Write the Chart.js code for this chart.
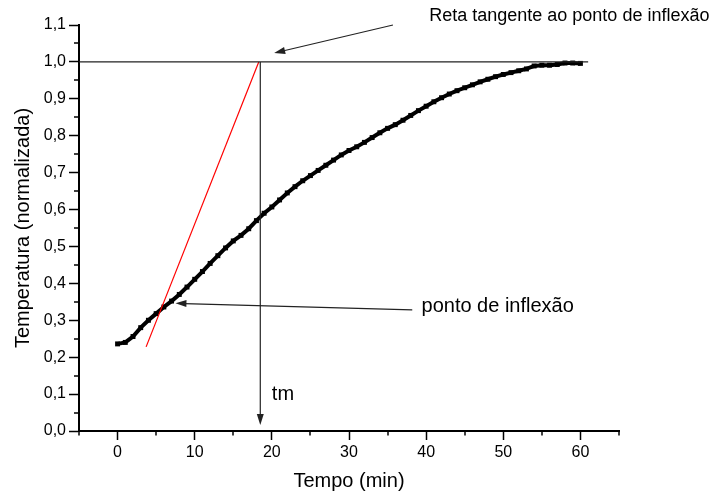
<!DOCTYPE html>
<html>
<head>
<meta charset="utf-8">
<script src="https://cdn.jsdelivr.net/npm/chart.js@4"></script>
<style>
  html, body { margin: 0; padding: 0; background: #fff; }
</style>
</head>
<body>
<canvas id="myChart" width="712" height="494"></canvas>
<script>
// measured curve: time (min) vs normalised temperature
const tempoMin = [0,1,2,3,4,5,6,7,8,9,10,11,12,13,14,15,16,17,18,19,20,
  21,22,23,24,25,26,27,28,29,30,31,32,33,34,35,36,37,38,39,40,
  41,42,43,44,45,46,47,48,49,50,51,52,53,54,55,56,57,58,59,60];
const temperatura = [0.236,0.240,0.256,0.280,0.300,0.318,0.336,0.352,0.370,0.390,0.411,
  0.432,0.454,0.475,0.496,0.515,0.530,0.548,0.570,0.590,0.607,
  0.626,0.645,0.662,0.678,0.692,0.706,0.720,0.734,0.748,0.760,
  0.770,0.782,0.795,0.808,0.820,0.830,0.842,0.855,0.868,0.880,
  0.892,0.903,0.913,0.922,0.930,0.938,0.946,0.953,0.960,0.966,
  0.971,0.976,0.981,0.989,0.991,0.991,0.993,0.997,0.997,0.996];

// tangent at the inflection point and the reference level 1,0
const tangenteX = [3.7, 18.3];
const tangenteY = [0.228, 1.0];
const nivelX = [-5, 61];
const nivelY = [1.0, 1.0];
const tm = 18.5;

// annotation arrows: [fromX, fromY, toX, toY]
const setaTm = [tm, 1.0, tm, 0.016];
const setaReta = [35.7, 1.10, 20.3, 1.024];
const setaInflexao = [38.2, 0.328, 7.5, 0.346];

const xTicks = [0, 10, 20, 30, 40, 50, 60];
const xMinor = [-5,5,15,25,35,45,55,65];
const yMinor = [0.05,0.15,0.25,0.35,0.45,0.55,0.65,0.75,0.85,0.95,1.05];

const FONT = 'Arial, "Liberation Sans", sans-serif';

function pts(xs, ys) { return xs.map((x, i) => ({x: x, y: ys[i]})); }

function arrow(ctx, xs, ys, a, color) {
  const x1 = xs.getPixelForValue(a[0]), y1 = ys.getPixelForValue(a[1]);
  const x2 = xs.getPixelForValue(a[2]), y2 = ys.getPixelForValue(a[3]);
  const ang = Math.atan2(y2 - y1, x2 - x1);
  const L = 11, W = 3.5;
  ctx.strokeStyle = color; ctx.fillStyle = color; ctx.lineWidth = 1.2;
  ctx.beginPath(); ctx.moveTo(x1, y1);
  ctx.lineTo(x2 - Math.cos(ang) * L * 0.8, y2 - Math.sin(ang) * L * 0.8);
  ctx.stroke();
  ctx.beginPath();
  ctx.moveTo(x2, y2);
  ctx.lineTo(x2 - L * Math.cos(ang) + W * Math.sin(ang), y2 - L * Math.sin(ang) - W * Math.cos(ang));
  ctx.lineTo(x2 - L * Math.cos(ang) - W * Math.sin(ang), y2 - L * Math.sin(ang) + W * Math.cos(ang));
  ctx.closePath(); ctx.fill();
}

const extras = {
  id: 'extras',
  afterDraw(chart) {
    const ctx = chart.ctx, xs = chart.scales.x, ys = chart.scales.y;
    const area = chart.chartArea;
    ctx.save();
    // minor ticks
    ctx.strokeStyle = '#000'; ctx.lineWidth = 1.5;
    ctx.beginPath();
    xMinor.forEach(v => {
      const px = Math.round(xs.getPixelForValue(v));
      ctx.moveTo(px, area.bottom); ctx.lineTo(px, area.bottom + 4.5);
    });
    yMinor.forEach(v => {
      const py = Math.round(ys.getPixelForValue(v));
      ctx.moveTo(area.left, py); ctx.lineTo(area.left - 5, py);
    });
    ctx.stroke();

    arrow(ctx, xs, ys, setaTm, '#222');
    arrow(ctx, xs, ys, setaReta, '#222');
    arrow(ctx, xs, ys, setaInflexao, '#222');

    ctx.fillStyle = '#000';
    ctx.textBaseline = 'middle';
    ctx.textAlign = 'left';
    ctx.font = '18px ' + FONT;
    ctx.fillText('Reta tangente ao ponto de inflexão', xs.getPixelForValue(40.4), ys.getPixelForValue(1.123));
    ctx.font = '20px ' + FONT;
    ctx.fillText('ponto de inflexão', xs.getPixelForValue(39.4), ys.getPixelForValue(0.337));
    ctx.fillText('tm', xs.getPixelForValue(20.0), ys.getPixelForValue(0.10));
    ctx.restore();
  }
};

const ctx = document.getElementById('myChart').getContext('2d');
const chart = new Chart(ctx, {
  type: 'scatter',
  data: {
    datasets: [
      {
        label: 'nivel',
        data: pts(nivelX, nivelY),
        showLine: true,
        borderColor: '#222',
        borderWidth: 1.2,
        pointRadius: 0
      },
      {
        label: 'tangente',
        data: pts(tangenteX, tangenteY),
        showLine: true,
        borderColor: '#ff0000',
        borderWidth: 1.2,
        pointRadius: 0
      },
      {
        label: 'Temperatura',
        data: pts(tempoMin, temperatura),
        showLine: true,
        borderColor: '#000',
        backgroundColor: '#000',
        borderWidth: 4,
        pointStyle: 'rect',
        pointRadius: 3.5,
        pointBorderWidth: 0
      }
    ]
  },
  options: {
    responsive: false,
    animation: false,
    clip: false,
    layout: { padding: { top: 25, right: 93, left: 0, bottom: 0 } },
    plugins: { legend: { display: false }, tooltip: { enabled: false } },
    scales: {
      x: {
        type: 'linear',
        min: -5, max: 65,
        afterFit: s => { s.height = 63; },
        afterBuildTicks: s => { s.ticks = xTicks.map(v => ({ value: v })); },
        border: { display: true, color: '#000', width: 2 },
        grid: { display: true, drawOnChartArea: false, drawTicks: true, tickLength: 9, tickWidth: 1.5, tickColor: '#000' },
        ticks: { color: '#000', padding: 3, maxRotation: 0,
                 font: { family: FONT, size: 16 } },
        title: { display: true, text: 'Tempo (min)', color: '#000',
                 font: { family: FONT, size: 20 }, padding: { top: 0, bottom: 1 } }
      },
      y: {
        type: 'linear',
        min: 0, max: 1.1,
        afterFit: s => { s.width = 79; },
        border: { display: true, color: '#000', width: 2 },
        grid: { display: true, drawOnChartArea: false, drawTicks: true, tickLength: 10, tickWidth: 1.5, tickColor: '#000' },
        ticks: { stepSize: 0.1, color: '#000', padding: 3,
                 font: { family: FONT, size: 16 },
                 callback: v => v.toFixed(1).replace('.', ',') },
        title: { display: true, text: 'Temperatura (normalizada)', color: '#000',
                 font: { family: FONT, size: 20 }, padding: { top: 11, bottom: 0 } }
      }
    }
  },
  plugins: [extras]
});
</script>
</body>
</html>
